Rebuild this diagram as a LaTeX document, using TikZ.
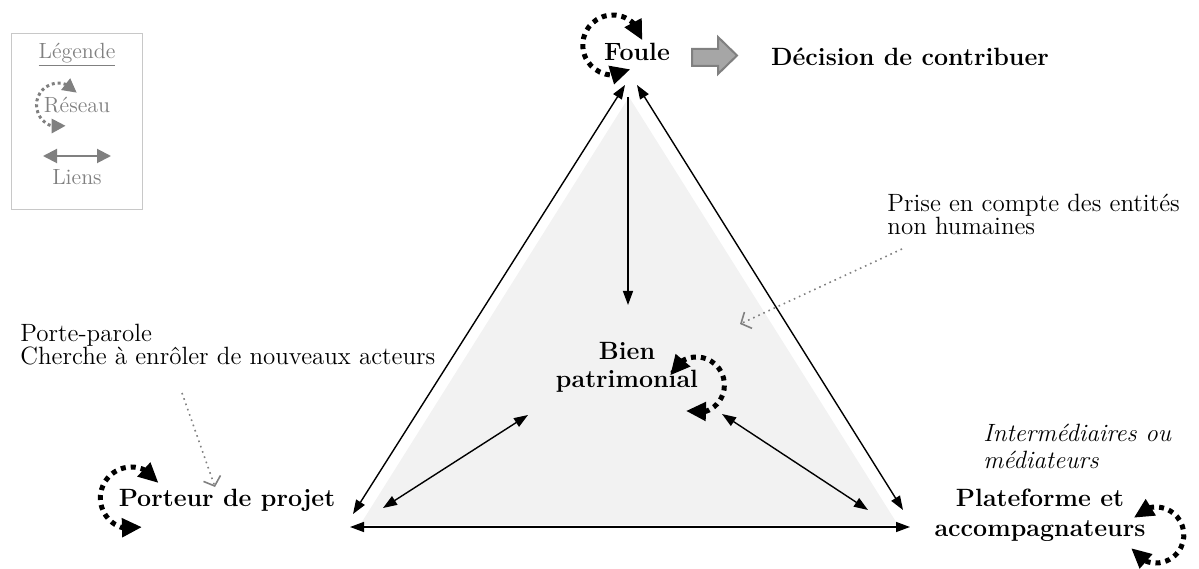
\documentclass[tikz,border=0pt]{standalone}
\usepackage{tikz}
\usetikzlibrary{arrows.meta,positioning,bending}

\definecolor{legendgray}{RGB}{128,128,128}
\definecolor{boxgray}{RGB}{200,200,200}
\definecolor{fillgray}{RGB}{242,242,242}
\definecolor{blockgray}{RGB}{166,166,166}

\begin{document}
\begin{tikzpicture}[x=0.5pt, y=0.5pt, node distance=25pt, on grid,
  font=\fontsize{12.5}{11.5}\selectfont,
  actor/.style={font=\fontsize{12.5}{14}\selectfont\bfseries, align=center, inner sep=1pt},
  note/.style={align=left, anchor=west, inner sep=0pt},
  legende/.style={text=legendgray, font=\fontsize{11}{12}\selectfont, inner sep=1pt},
  lien/.style={{Triangle[length=7pt,width=5pt]}-{Triangle[length=7pt,width=5pt]}, line width=0.7pt},
  descente/.style={-{Triangle[length=7pt,width=5pt]}, line width=0.7pt},
  reseau/.style={{Triangle[length=10pt,width=9pt]}-{Triangle[length=10pt,width=9pt]},
    line width=2.5pt, dash pattern=on 2.5pt off 2.5pt},
  reseauleg/.style={{Triangle[length=7pt,width=7pt]}-{Triangle[length=7pt,width=7pt]},
    legendgray, line width=1.5pt, dash pattern=on 1.5pt off 1.5pt},
  lienleg/.style={{Triangle[length=7pt,width=7pt]}-{Triangle[length=7pt,width=7pt]},
    legendgray, line width=1pt},
  renvoi/.style={-{Straight Barb[length=4pt,width=9pt]}, legendgray, line width=0.8pt, dotted}]

  \useasboundingbox (0,0) rectangle (1199,568);

  % legende
  \draw[boxgray] (11,359) rectangle (142,535);
  \node[legende] (legende) at (77,513) {\underline{Légende}};
  \node[legende] (reseau) [below=of legende] {Réseau};
  \node[legende] (liens) [below=36pt of reseau] {Liens};
  \coordinate (liensW) at (43,412);
  \coordinate (liensE) at (111,412);
  \path (liensW) edge[lienleg] (liensE);
  \draw[reseauleg] ([shift={(17,0)}]reseau.west) ++(34:22) arc[start angle=34, end angle=289, radius=22];

  % triangle
  \fill[fillgray] (629,471) -- (360,43) -- (898,43) -- cycle;

  \node[actor] (foule) at (637,516) {Foule};
  \node[actor] (decision) at (910,511) {Décision de contribuer};
  \node[actor] (bien) at (627,201) {Bien\\patrimonial};
  \node[actor] (porteur) at (227,68) {Porteur de projet};
  \node[actor, font=\fontsize{12.5}{15}\selectfont\bfseries] (plateforme) at (1040,53) {Plateforme et\\accompagnateurs};

  \node[note, font=\fontsize{12.5}{13.5}\selectfont\itshape] (mediateurs) at (983,122) {Intermédiaires ou\\médiateurs};
  \node[note] (entites) at (887,354) {Prise en compte des entités\\non humaines};
  \node[note] (porteparole) at (20,223) {Porte-parole\\Cherche à enrôler de nouveaux acteurs};

  \coordinate (apexL) at (625,483);
  \coordinate (apexR) at (637,483);
  \coordinate (apexM) at (628,471);
  \coordinate (cornerL) at (353,54);
  \coordinate (cornerR) at (903,58);
  \coordinate (baseL) at (350,41);
  \coordinate (baseR) at (910,41);
  \coordinate (bienN) at (628,263);
  \coordinate (bienSW) at (528,153);
  \coordinate (bienSE) at (722,154);
  \coordinate (porteurE) at (383,60);
  \coordinate (plateW) at (868,58);

  \path (cornerL) edge[lien] (apexL);
  \path (apexR) edge[lien] (cornerR);
  \path (baseL) edge[lien] (baseR);
  \path (apexM) edge[descente] (bienN);
  \path (bienSW) edge[lien] (porteurE);
  \path (bienSE) edge[lien] (plateW);

  % reseaux
  \draw[reseau] ([shift={(11,7)}]foule.west) ++(9:30) arc[start angle=9, end angle=306, radius=30];
  \draw[reseau] ([shift={(15,2)}]porteur.west) ++(29:31) arc[start angle=29, end angle=290, radius=31];
  \draw[reseau] ([shift={(-4,-18)}]bien.east) ++(160:28) arc[start angle=160, end angle=-112, radius=28];
  \draw[reseau] ([shift={(8,-20)}]plateforme.east) ++(142:28) arc[start angle=142, end angle=-152, radius=28];

  % fleche vers la decision
  \draw[draw=legendgray, fill=blockgray, line width=1pt]
    (692,502) -- (718,502) -- (718,494) -- (737,512.5) -- (718,531) -- (718,519) -- (692,519) -- cycle;

  % renvois
  \coordinate (entitesA) at (902,319);
  \coordinate (entitesB) at (740,244);
  \coordinate (porteA) at (182,175);
  \coordinate (porteB) at (215,81);
  \path (entitesA) edge[renvoi] (entitesB);
  \path (porteA) edge[renvoi] (porteB);
\end{tikzpicture}
\end{document}
